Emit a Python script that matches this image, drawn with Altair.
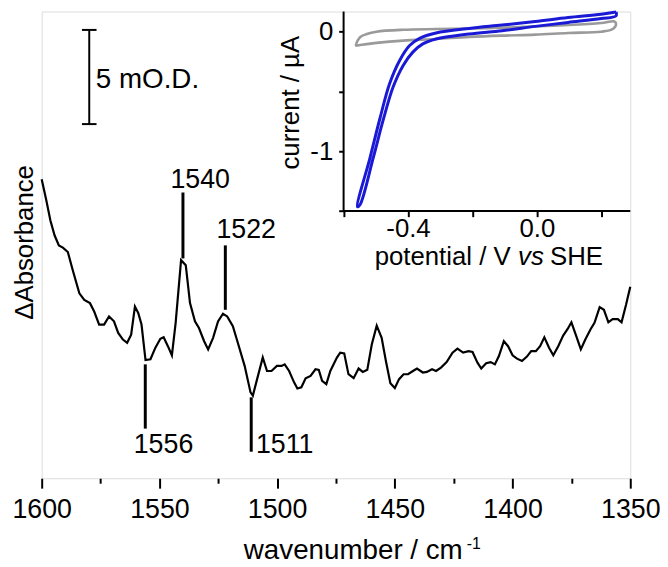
import altair as alt
import pandas as pd

# ---------------- data ----------------
# main spectrum (wavenumber in cm-1, delta absorbance in mOD, arbitrary offset)
wavenumber = [1600.0, 1598.0, 1596.3, 1594.5, 1592.7, 1591.0, 1588.9, 1586.8, 1584.0, 1581.9,
              1579.5, 1577.7, 1575.6, 1573.5, 1571.4, 1569.3, 1567.5, 1565.5, 1563.7, 1562.0,
              1560.4, 1559.0, 1557.6, 1555.9, 1553.8, 1551.7, 1549.6, 1548.2, 1546.4, 1544.7,
              1543.1, 1540.8, 1538.8, 1537.0, 1534.9, 1533.2, 1531.0, 1529.3, 1527.2, 1525.1,
              1523.0, 1521.2, 1518.8, 1516.7, 1513.8, 1511.3, 1510.3, 1508.5, 1506.1, 1504.3,
              1502.4, 1500.1, 1498.1, 1496.8, 1494.9, 1492.8, 1491.4, 1489.7, 1487.9, 1485.8,
              1483.7, 1482.3, 1480.9, 1479.1, 1477.4, 1474.6, 1473.2, 1471.5, 1469.7, 1467.5,
              1465.4, 1463.6, 1461.7, 1459.8, 1457.7, 1455.6, 1453.8, 1451.9, 1450.0, 1448.2,
              1446.3, 1444.4, 1442.3, 1440.6, 1438.1, 1436.4, 1434.2, 1432.5, 1430.4, 1428.0,
              1425.5, 1423.4, 1421.0, 1418.7, 1417.0, 1414.9, 1413.3, 1411.2, 1409.3, 1407.5,
              1405.8, 1403.7, 1401.9, 1400.0, 1398.1, 1396.0, 1393.9, 1392.1, 1390.1, 1388.3,
              1386.5, 1384.5, 1382.7, 1380.6, 1378.5, 1376.6, 1375.0, 1372.9, 1371.0, 1369.1,
              1366.8, 1365.2, 1363.0, 1361.2, 1359.3, 1357.5, 1355.3, 1353.7, 1351.8, 1350.0]
absorbance = [15.78, 14.64, 13.60, 12.81, 12.29, 12.17, 11.94, 10.98, 9.76, 9.41,
              9.24, 8.80, 8.11, 8.11, 8.54, 8.28, 7.67, 7.32, 7.15, 7.58,
              9.06, 8.72, 8.11, 6.24, 6.28, 6.89, 7.36, 7.44, 6.97, 6.49,
              8.20, 11.51, 11.24, 9.24, 8.28, 7.93, 7.23, 6.80, 7.41, 8.28,
              8.68, 8.54, 8.02, 7.15, 5.93, 4.53, 4.36, 5.23, 6.37, 5.66,
              5.66, 5.93, 5.93, 6.01, 5.66, 5.06, 4.74, 4.80, 5.27, 5.40,
              5.75, 5.72, 5.14, 4.97, 5.66, 6.37, 6.63, 6.59, 5.49, 5.28,
              5.79, 5.61, 5.72, 7.06, 8.05, 7.41, 6.19, 5.02, 4.76, 5.23,
              5.49, 5.49, 5.66, 5.79, 5.58, 5.61, 5.75, 5.66, 5.84, 6.13,
              6.63, 6.84, 6.63, 6.71, 6.66, 6.10, 5.79, 6.07, 6.13, 6.01,
              6.45, 7.23, 6.97, 6.49, 6.31, 6.19, 6.42, 6.71, 6.71, 6.97,
              7.44, 6.89, 6.49, 6.97, 7.53, 7.88, 8.23, 7.49, 6.80, 7.32,
              7.88, 8.20, 9.03, 8.89, 8.23, 8.40, 8.40, 8.23, 9.15, 10.11]

# band markers
peak_pos = [1540, 1522, 1556, 1511]
peak_lo = [11.60, 8.89, 2.62, 1.40]
peak_hi = [15.08, 12.29, 6.01, 4.27]
peak_text = ["1540", "1522", "1556", "1511"]
peak_text_wn = [1545.3, 1525.8, 1560.9, 1509.0]
peak_text_a = [15.34, 12.69, 1.31, 1.31]

# scale bar (5 mOD)
bar_wn = [1579.8]
bar_lo = [18.69]
bar_hi = [23.66]
bar_cap_left = [1582.9, 1582.9]
bar_cap_right = [1576.7, 1576.7]
bar_cap_a = [18.69, 23.66]
bar_text = ["5 mO.D."]
bar_text_wn = [1577.0]
bar_text_a = [20.57]

# inset cyclic voltammograms (potential V vs SHE, current uA)
gray_v = [-0.561, -0.549, -0.528, -0.498, -0.415, -0.313, -0.210, -0.108, -0.005, 0.097,
          0.200, 0.241, 0.246, 0.236, 0.200, 0.097, -0.005, -0.108, -0.210, -0.313,
          -0.415, -0.498, -0.549, -0.561, -0.561]
gray_i = [-0.102, -0.047, -0.020, 0.000, 0.016, 0.022, 0.027, 0.033, 0.044, 0.055,
          0.072, 0.085, 0.064, 0.022, 0.000, -0.011, -0.025, -0.033, -0.044, -0.061,
          -0.075, -0.094, -0.111, -0.116, -0.102]
blue_v = [0.246, 0.200, 0.097, -0.005, -0.108, -0.210, -0.313, -0.364, -0.395, -0.426,
          -0.457, -0.487, -0.518, -0.557, -0.549, -0.508, -0.477, -0.446, -0.415, -0.385,
          -0.354, -0.313, -0.210, -0.108, -0.005, 0.097, 0.200, 0.246, 0.246]
blue_i = [0.165, 0.146, 0.118, 0.085, 0.055, 0.027, -0.011, -0.056, -0.116, -0.241,
          -0.434, -0.724, -1.055, -1.464, -1.447, -1.055, -0.738, -0.461, -0.282, -0.171,
          -0.102, -0.061, -0.020, 0.008, 0.044, 0.077, 0.110, 0.132, 0.165]

main_x_domain = [1350, 1600]
main_y_domain = [0, 24.63]
inset_x_domain = [-1.5375, 0.2902]
inset_y_domain = [-3.734, 0.1682]
inset_x_ticks = [-0.6, -0.4, -0.2, 0.0, 0.2]
inset_y_ticks = [0.0, -0.5, -1.0, -1.5]
inset_box_x = [-0.6, 0.2902]
inset_box_y = [-1.5, 0.1682]

# ---------------- chart ----------------
W, H = 594, 471
FONT = "Liberation Sans"

xs = alt.Scale(domain=main_x_domain, reverse=True, nice=False, zero=False)
ys = alt.Scale(domain=main_y_domain, nice=False, zero=False)

xaxis = alt.Axis(values=list(range(1350, 1601, 25)),
                 labelExpr="datum.value % 50 === 0 ? '' + datum.value : ''",
                 tickSize={"condition": {"test": "datum.value % 50 === 0", "value": 10}, "value": 5},
                 tickWidth=2, tickColor="black", domain=False, grid=False,
                 labelFont=FONT, labelFontSize=27, labelColor="black", labelPadding=9,
                 labelFlush=False, labelOverlap=False)
yaxis = alt.Axis(ticks=False, labels=False, domain=False, grid=False)

df_spec = pd.DataFrame({"wn": wavenumber, "A": absorbance})
spec = alt.Chart(df_spec).mark_line(color="black", strokeWidth=2.2).encode(
    x=alt.X("wn:Q", scale=xs, axis=xaxis, title=None),
    y=alt.Y("A:Q", scale=ys, axis=yaxis, title=None),
)

df_peak = pd.DataFrame({"wn": peak_pos, "A": peak_lo, "A2": peak_hi})
peaks = alt.Chart(df_peak).mark_rule(color="black", strokeWidth=3).encode(
    x=alt.X("wn:Q", title=None), y=alt.Y("A:Q", title=None), y2="A2:Q")

df_ptext = pd.DataFrame({"wn": peak_text_wn, "A": peak_text_a, "t": peak_text})
ptext = alt.Chart(df_ptext).mark_text(font=FONT, fontSize=27, align="left",
                                      baseline="alphabetic", color="black").encode(
    x=alt.X("wn:Q", title=None), y=alt.Y("A:Q", title=None), text="t:N")

df_bar = pd.DataFrame({"wn": bar_wn, "A": bar_lo, "A2": bar_hi})
bar = alt.Chart(df_bar).mark_rule(color="black", strokeWidth=2).encode(
    x=alt.X("wn:Q", title=None), y=alt.Y("A:Q", title=None), y2="A2:Q")
df_cap = pd.DataFrame({"wn": bar_cap_left, "wn2": bar_cap_right, "A": bar_cap_a})
caps = alt.Chart(df_cap).mark_rule(color="black", strokeWidth=2).encode(
    x=alt.X("wn:Q", title=None), x2="wn2:Q", y=alt.Y("A:Q", title=None))
df_btext = pd.DataFrame({"wn": bar_text_wn, "A": bar_text_a, "t": bar_text})
btext = alt.Chart(df_btext).mark_text(font=FONT, fontSize=28, align="left",
                                      baseline="alphabetic", color="black").encode(
    x=alt.X("wn:Q", title=None), y=alt.Y("A:Q", title=None), text="t:N")


def label(txt, x, y, size, angle=0, align="left", style="normal"):
    kw = dict(font=FONT, fontSize=size, align=align, baseline="alphabetic",
              color="black", fontStyle=style)
    if angle:
        kw["angle"] = angle
    return alt.Chart(pd.DataFrame({"t": [txt]})).mark_text(**kw).encode(
        text="t:N", x=alt.value(x), y=alt.value(y))


titles = [
    label("ΔAbsorbance", -9, 233, 26, angle=270, align="center"),
    label("wavenumber / cm", 204, 552, 28),
    label("-1", 429, 542, 16),
    label("current / µA", 260, 92, 26, angle=270, align="center"),
    label("potential / V", 336, 256, 26),
    label("vs", 480.7, 256, 26, style="italic"),
    label("SHE", 513, 256, 26),
]

main = alt.layer(spec, peaks, ptext, bar, caps, btext, *titles)

# inset
ixs = alt.Scale(domain=inset_x_domain, nice=False, zero=False)
iys = alt.Scale(domain=inset_y_domain, nice=False, zero=False)
ixaxis = alt.Axis(orient="bottom", offset=-270, values=inset_x_ticks,
                  labelExpr="abs(datum.value + 0.4) < 0.01 ? '-0.4' : (abs(datum.value) < 0.01 ? '0.0' : '')",
                  tickSize=6, tickWidth=2, tickColor="black", domain=False, grid=False,
                  labelFont=FONT, labelFontSize=26, labelColor="black", labelPadding=-1,
                  labelFlush=False, labelOverlap=False)
iyaxis = alt.Axis(orient="left", offset=-304.7, values=inset_y_ticks,
                  labelExpr="abs(datum.value) < 0.01 ? '0' : (abs(datum.value + 1) < 0.01 ? '-1' : '')",
                  tickSize=5, tickWidth=2, tickColor="black", domain=False, grid=False,
                  labelFont=FONT, labelFontSize=26, labelColor="black", labelPadding=6,
                  labelFlush=False, labelOverlap=False)

df_gray = pd.DataFrame({"V": gray_v, "I": gray_i, "i": range(len(gray_v))})
gray = alt.Chart(df_gray).mark_line(color="#9a9a9a", strokeWidth=2.6,
                                    interpolate="catmull-rom").encode(
    x=alt.X("V:Q", scale=ixs, axis=ixaxis, title=None),
    y=alt.Y("I:Q", scale=iys, axis=iyaxis, title=None),
    order="i:Q")
df_blue = pd.DataFrame({"V": blue_v, "I": blue_i, "i": range(len(blue_v))})
blue = alt.Chart(df_blue).mark_line(color="#1a1ad6", strokeWidth=3,
                                    interpolate="catmull-rom").encode(
    x=alt.X("V:Q", title=None), y=alt.Y("I:Q", title=None), order="i:Q")

df_left = pd.DataFrame({"V": [inset_box_x[0]], "I": [inset_box_y[0]], "I2": [inset_box_y[1]]})
frame_left = alt.Chart(df_left).mark_rule(color="black", strokeWidth=2).encode(
    x=alt.X("V:Q", title=None), y=alt.Y("I:Q", title=None), y2="I2:Q")
df_bot = pd.DataFrame({"V": [inset_box_x[0]], "V2": [inset_box_x[1]], "I": [inset_box_y[0]]})
frame_bot = alt.Chart(df_bot).mark_rule(color="black", strokeWidth=2).encode(
    x=alt.X("V:Q", title=None), x2="V2:Q", y=alt.Y("I:Q", title=None))

inset = alt.layer(gray, blue, frame_left, frame_bot)

chart = alt.layer(main, inset).resolve_scale(x="independent", y="independent").properties(
    width=W, height=H,
    padding={"left": 34, "top": 1, "right": 30, "bottom": 87},
    autosize=alt.AutoSizeParams(type="none"),
).configure_view(stroke="black", strokeWidth=2).configure(background="white")

chart.save("out.html", embed_options={"renderer": "svg", "actions": False})
